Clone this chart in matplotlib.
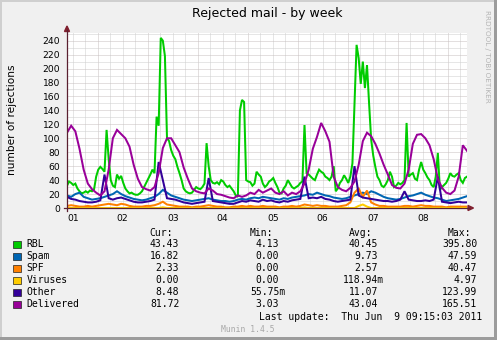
import numpy as np
import matplotlib
matplotlib.use('Agg')
import matplotlib.pyplot as plt
from matplotlib.patches import Rectangle, Polygon
from matplotlib.lines import Line2D

# ---------------- data ----------------
title = 'Rejected mail - by week'
ylabel = 'number of rejections'
day_labels = ['01', '02', '03', '04', '05', '06', '07', '08']
start_hour = 9.25          # graph starts 8 days before last update (09:15)
n_days = 8

series_names = ['RBL', 'Spam', 'SPF', 'Viruses', 'Other', 'Delivered']
series_colors = ['#00CC00', '#0066B3', '#FF8000', '#FFCC00', '#330099', '#990099']

# RBL sampled hourly (193 points)
rbl = [32, 38, 36, 33, 35, 28, 24, 21, 22, 24, 22, 25, 24, 27, 45, 55, 59, 56, 52, 112,
       70, 40, 32, 30, 48, 42, 46, 36, 28, 24, 21, 22, 20, 19, 19, 21, 24, 30, 36, 42,
       48, 55, 50, 131, 118, 244, 240, 218, 100, 96, 83, 75, 70, 59, 50, 40, 28, 24, 22, 21,
       22, 26, 30, 28, 27, 30, 35, 93, 60, 40, 36, 35, 37, 34, 40, 38, 33, 30, 32, 28,
       24, 18, 16, 140, 155, 152, 40, 38, 37, 32, 35, 52, 48, 45, 35, 30, 33, 38, 40, 43,
       36, 30, 22, 21, 28, 32, 40, 35, 30, 28, 30, 32, 36, 38, 119, 50, 48, 45, 42, 40,
       48, 55, 52, 50, 45, 43, 40, 45, 60, 24, 28, 36, 40, 47, 42, 36, 45, 64, 150, 234,
       215, 178, 210, 172, 205, 150, 98, 75, 59, 45, 40, 32, 30, 34, 40, 52, 45, 30, 32, 36,
       34, 36, 40, 122, 45, 48, 50, 42, 40, 55, 66, 55, 50, 44, 40, 33, 30, 45, 79, 26,
       30, 33, 36, 42, 50, 46, 45, 48, 50, 40, 36, 43, 45]

# other series sampled every 2 hours (97 points)
spam = [18, 16, 20, 22, 16, 14, 12, 13, 14, 16, 18, 20, 24, 20, 17, 15, 13, 12, 11, 12,
        14, 16, 20, 26, 22, 18, 16, 14, 12, 11, 10, 11, 12, 13, 14, 12, 11, 10, 10, 9,
        10, 12, 13, 12, 14, 15, 14, 16, 15, 14, 13, 12, 14, 13, 15, 16, 17, 18, 20, 19,
        22, 20, 18, 17, 15, 14, 13, 14, 16, 18, 20, 22, 20, 24, 22, 19, 16, 14, 13, 12,
        13, 15, 17, 18, 20, 22, 19, 17, 15, 14, 12, 10, 11, 12, 13, 15, 17]

spf = [3, 4, 3, 2, 2, 3, 2, 3, 4, 5, 6, 5, 4, 6, 5, 3, 2, 2, 2, 3,
       3, 4, 6, 9, 5, 4, 3, 2, 2, 2, 1, 2, 2, 3, 4, 3, 2, 2, 1, 1,
       2, 2, 3, 2, 3, 2, 2, 3, 2, 2, 2, 1, 2, 2, 3, 2, 3, 5, 4, 3,
       4, 3, 3, 2, 2, 2, 3, 4, 8, 22, 28, 16, 25, 8, 5, 3, 3, 2, 2, 2,
       2, 3, 3, 2, 3, 4, 3, 3, 2, 2, 2, 1, 2, 2, 2, 2, 2]

viruses = [0, 0, 0, 0, 0, 0, 0, 0, 0, 0, 0, 0, 0, 0, 0, 0, 0, 0, 0, 0,
           0, 0, 0, 1, 0, 0, 0, 0, 0, 0, 0, 0, 0, 0, 0, 0, 0, 0, 0, 0,
           0, 0, 0, 0, 0, 0, 0, 0, 0, 0, 0, 0, 0, 0, 0, 0, 0, 1, 0, 0,
           0, 0, 0, 0, 0, 0, 0, 0, 0, 0, 3, 5, 2, 0, 0, 0, 0, 0, 0, 0,
           0, 0, 0, 0, 0, 0, 0, 0, 0, 0, 0, 0, 0, 0, 0, 0, 0]

other = [16, 13, 12, 10, 9, 8, 8, 9, 11, 48, 14, 12, 14, 15, 13, 11, 9, 8, 8, 9,
         10, 12, 66, 40, 14, 13, 12, 10, 8, 7, 6, 7, 8, 9, 43, 10, 9, 8, 7, 6,
         6, 8, 10, 9, 11, 10, 9, 12, 10, 11, 9, 8, 10, 9, 11, 12, 13, 45, 14, 15,
         14, 16, 13, 12, 10, 9, 10, 11, 12, 60, 18, 15, 14, 13, 12, 11, 10, 10, 9, 10,
         12, 24, 12, 11, 10, 10, 11, 10, 12, 45, 9, 8, 7, 8, 9, 8, 8]

delivered = [108, 118, 110, 85, 55, 35, 27, 22, 18, 24, 55, 100, 112, 106, 100, 88, 62, 42, 30, 27,
             25, 30, 50, 86, 100, 100, 90, 80, 58, 42, 28, 24, 22, 21, 28, 25, 20, 19, 17, 15,
             14, 18, 16, 18, 22, 20, 26, 22, 25, 28, 22, 20, 24, 18, 22, 20, 24, 35, 55, 85,
             102, 122, 110, 95, 45, 30, 26, 24, 29, 38, 62, 96, 108, 103, 92, 78, 62, 48, 33, 29,
             28, 35, 55, 92, 105, 106, 100, 90, 70, 42, 29, 22, 20, 25, 45, 90, 82]

cur_vals = ['43.43', '16.82', '2.33', '0.00', '8.48', '81.72']
min_vals = ['4.13', '0.00', '0.00', '0.00', '55.75m', '3.03']
avg_vals = ['40.45', '9.73', '2.57', '118.94m', '11.07', '43.04']
max_vals = ['395.80', '47.59', '40.47', '4.97', '123.99', '165.51']
col_headers = ['Cur:', 'Min:', 'Avg:', 'Max:']
last_update = 'Last update:  Thu Jun  9 09:15:03 2011'
footer = 'Munin 1.4.5'
side_text = 'RRDTOOL / TOBI OETIKER'

# ---------------- layout ----------------
W, H = 497, 340
fig = plt.figure(figsize=(W / 100, H / 100), dpi=100, facecolor='#F0F0F0')


def fx(px):
    return px / W


def fy(py):
    return 1 - py / H


L, R, T, B = 67, 467, 33, 208
ax = fig.add_axes([fx(L), fy(B), (R - L) / W, (B - T) / H])
ax.set_facecolor('white')
ax.set_xlim(0, n_days)
ax.set_ylim(0, 251)
for s in ax.spines.values():
    s.set_visible(False)

# grid
grid_c = '#cfcfcf'
mgrid_c = '#c8c0c0'
first6 = ((6 - start_hour % 6) % 6) / 24.0
for k in range(40):
    xv = first6 + k * 0.25
    if xv > n_days:
        break
    hh = (xv * 24 + start_hour) % 24
    is_midnight = hh < 1e-6 or abs(hh - 24) < 1e-6
    ax.axvline(xv, color=mgrid_c if is_midnight else grid_c, lw=0.72,
               ls=(0, (1, 1)), zorder=0)
for yv in range(10, 251, 10):
    ax.axhline(yv, color=mgrid_c if yv % 20 == 0 else grid_c, lw=0.72,
               ls=(0, (1, 1)), zorder=0)

# series
x_hourly = np.linspace(0, n_days, len(rbl))
x_2h = np.linspace(0, n_days, len(spam))
data = [(x_hourly, rbl), (x_2h, spam), (x_2h, spf), (x_2h, viruses), (x_2h, other), (x_2h, delivered)]
for (xs, ys), c in zip(data, series_colors):
    ax.plot(xs, ys, color=c, lw=1.45, solid_joinstyle='miter', zorder=3)

# ticks
label_pos = [(12 - start_hour) / 24.0 + d for d in range(len(day_labels))]
ax.set_xticks(label_pos)
ax.set_xticklabels(day_labels)
ax.set_yticks(range(0, 241, 20))
ax.tick_params(axis='both', length=0, labelsize=6.6, colors='black')
ax.tick_params(axis='x', pad=4.5)
ax.tick_params(axis='y', pad=4.8)

# axes lines and arrows
axis_c = '#5a2030'
arrow_c = '#80202f'
fig.add_artist(Line2D([fx(64), fx(469)], [fy(B), fy(B)], color=axis_c, lw=0.9))
fig.add_artist(Line2D([fx(L), fx(L)], [fy(211), fy(30)], color=axis_c, lw=0.9))
fig.add_artist(Polygon([[fx(468), fy(205.5)], [fx(473.5), fy(B)], [fx(468), fy(210.5)]],
                       closed=True, color=arrow_c, transform=fig.transFigure))
fig.add_artist(Polygon([[fx(64.5), fy(31.5)], [fx(L), fy(26)], [fx(69.5), fy(31.5)]],
                       closed=True, color=arrow_c, transform=fig.transFigure))

# titles
fig.text(fx(267), fy(13.5), title, ha='center', va='center', fontsize=9, family='DejaVu Sans')
fig.text(fx(12), fy(120), ylabel, rotation=90, ha='center', va='center', fontsize=7.6)
fig.text(fx(487), fy(56), side_text, rotation=-90, ha='center', va='center',
         fontsize=5.2, color='#b4b4b4')

# legend
mono = 'DejaVu Sans Mono'
lfs = 7
cw = 5.8
hdr_x = [149, 250, 349, 447.7]
col_right = [179.3, 279.3, 378.3, 477.3]
hdr_y = 232.7
for h, hx in zip(col_headers, hdr_x):
    fig.text(fx(hx), fy(hdr_y), h, ha='left', va='center', fontsize=lfs, family=mono)
for k, name in enumerate(series_names):
    yy = 244.3 + 12 * k
    fig.add_artist(Rectangle((fx(13.3), fy(yy + 3.6)), 7.2 / W, 7.2 / H,
                             facecolor=series_colors[k], edgecolor='#222222', lw=0.5,
                             transform=fig.transFigure))
    fig.text(fx(26.7), fy(yy), name, ha='left', va='center', fontsize=lfs, family=mono)
    for vals, cr in zip([cur_vals, min_vals, avg_vals, max_vals], col_right):
        v = vals[k]
        right = cr + (cw if v.endswith('m') else 0)
        fig.text(fx(right), fy(yy), v, ha='right', va='center', fontsize=lfs, family=mono)

fig.text(fx(482.7), fy(316.7), last_update, ha='right', va='center', fontsize=lfs, family=mono)
fig.text(fx(248), fy(329), footer, ha='center', va='center', fontsize=5.8, family=mono,
         color='#a8a8a8')

# frame shading
fig.add_artist(Rectangle((0, fy(2)), 1, 2 / H, color='#cfcfcf', transform=fig.transFigure, lw=0))
fig.add_artist(Rectangle((0, 0), 2 / W, 1, color='#cfcfcf', transform=fig.transFigure, lw=0))
fig.add_artist(Rectangle((fx(494), 0), 3 / W, 1, color='#9c9c9c', transform=fig.transFigure, lw=0))
fig.add_artist(Rectangle((0, 0), 1, 3 / H, color='#9c9c9c', transform=fig.transFigure, lw=0))

fig.savefig('out.png', dpi=100, facecolor=fig.get_facecolor())
